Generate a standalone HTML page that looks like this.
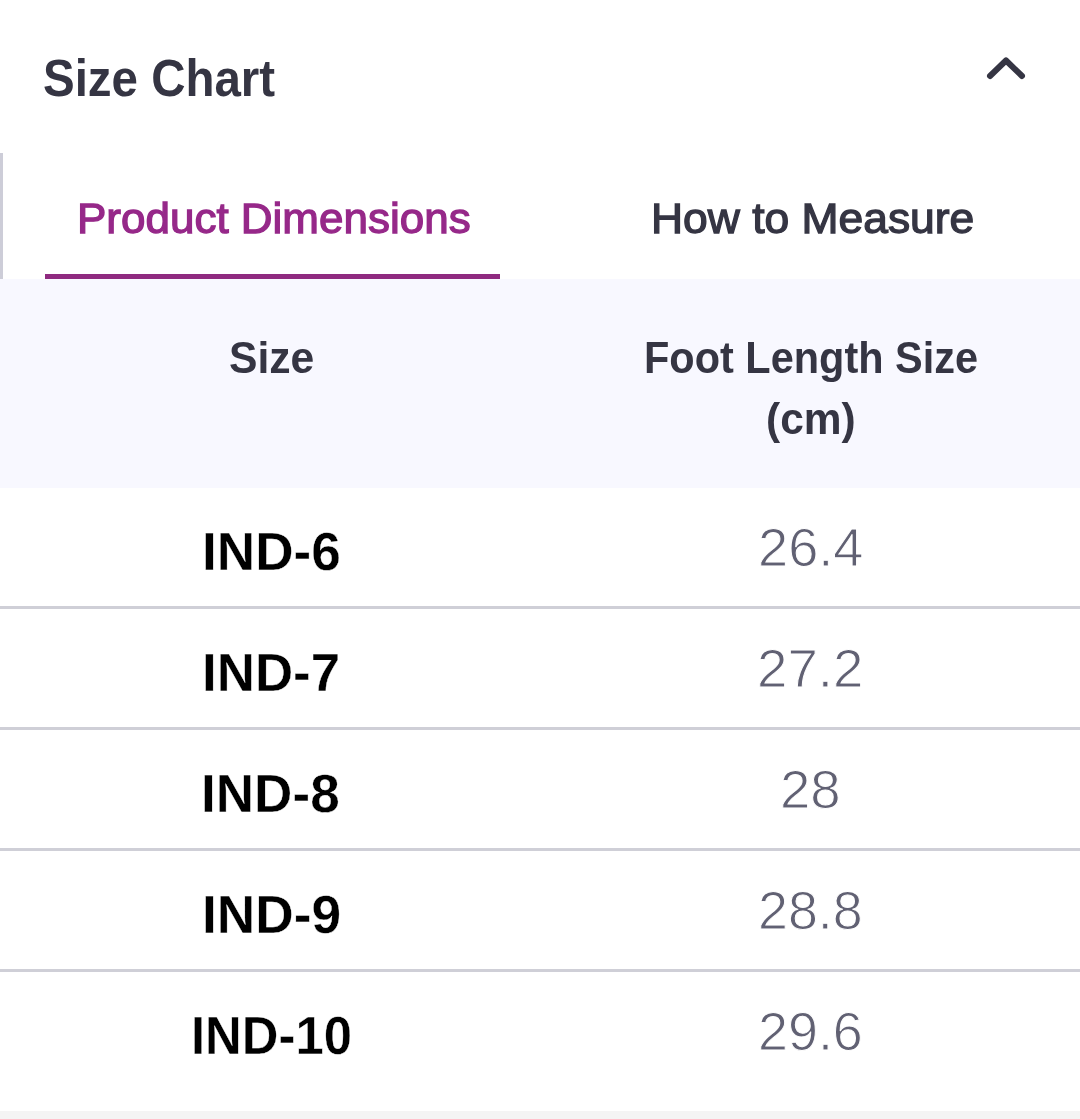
<!DOCTYPE html>
<html lang="en">
<head>
<meta charset="utf-8">
<meta name="viewport" content="width=1080">
<title>Size Chart</title>
<style>
html,body{margin:0;padding:0;}
body{width:1080px;height:1119px;background:#fff;position:relative;overflow:hidden;font-family:"Liberation Sans",sans-serif;color:#353543;}
h2{margin:0;}
.t{position:absolute;white-space:nowrap;line-height:1;font-weight:400;transform-origin:0 0;}
.title{font-weight:700;color:#353543;}
.chev{position:absolute;left:980.4px;top:50px;width:52px;height:36px;}
.leftbar{position:absolute;left:0;top:153px;width:3px;height:126px;background:#cdcdd8;}
.tab{color:#353543;-webkit-text-stroke:1.3px #353543;}
.tab-active{color:#962889;-webkit-text-stroke:1.3px #962889;}
.underline{position:absolute;left:45px;top:274px;width:455px;height:5px;background:#8f2a80;}
.thead{position:absolute;left:0;top:279px;width:1080px;height:209px;background:#f8f8ff;}
.th{font-weight:700;color:#353543;}
.k{font-weight:700;color:#000;-webkit-text-stroke:0.4px #fff;}
.v{color:#616173;-webkit-text-stroke:1px #fff;}
.rule{position:absolute;left:0;width:1080px;height:3px;background:#cfcfd7;}
.foot{position:absolute;left:0;top:1111px;width:1080px;height:8px;background:#f4f4f4;}
</style>
</head>
<body>
<main class="card">
  <header class="head">
    <h2 class="t title" style="left:42.52px;top:53px;font-size:51.5px;transform:scaleX(0.9214);">Size Chart</h2>
    <svg class="chev" viewBox="0 0 52 36" aria-hidden="true"><path d="M10 26 L26 10.5 L42 26" fill="none" stroke="#353543" stroke-width="6" stroke-linecap="round" stroke-linejoin="round"/></svg>
  </header>
  <nav class="tabs" role="tablist">
    <div class="leftbar"></div>
    <div class="t tab tab-active" role="tab" aria-selected="true" style="left:77.03px;top:197px;font-size:43.2px;transform:scaleX(1.0186);">Product Dimensions</div>
    <div class="t tab" role="tab" aria-selected="false" style="left:650.54px;top:197px;font-size:43.2px;transform:scaleX(1.0281);">How to Measure</div>
    <div class="underline"></div>
  </nav>
  <section class="table" role="table">
    <div class="thead" role="row">
      <div class="t th" role="columnheader" style="left:229.06px;top:57px;font-size:44.5px;transform:scaleX(0.9579);">Size</div>
      <div class="t th" role="columnheader" style="left:644.41px;top:57px;font-size:44.5px;transform:scaleX(0.9321);">Foot Length Size</div>
      <div class="t th" style="left:765.72px;top:118px;font-size:44.5px;transform:scaleX(0.9537);">(cm)</div>
    </div>
    <div class="tr" role="row">
      <div class="t k" role="cell" style="left:201.83px;top:525px;font-size:54.3px;transform:scaleX(0.9795);">IND-6</div>
      <div class="t v" role="cell" style="left:757.64px;top:520px;font-size:54.2px;transform:scaleX(0.9997);">26.4</div>
      <div class="rule" style="top:606px;"></div>
    </div>
    <div class="tr" role="row">
      <div class="t k" role="cell" style="left:202.36px;top:646px;font-size:54.3px;transform:scaleX(0.9744);">IND-7</div>
      <div class="t v" role="cell" style="left:757.13px;top:641px;font-size:54.2px;transform:scaleX(1.0085);">27.2</div>
      <div class="rule" style="top:727px;"></div>
    </div>
    <div class="tr" role="row">
      <div class="t k" role="cell" style="left:201.36px;top:767px;font-size:54.3px;transform:scaleX(0.9780);">IND-8</div>
      <div class="t v" role="cell" style="left:780.12px;top:762px;font-size:54.2px;transform:scaleX(1.0064);">28</div>
      <div class="rule" style="top:848px;"></div>
    </div>
    <div class="tr" role="row">
      <div class="t k" role="cell" style="left:201.84px;top:888px;font-size:54.3px;transform:scaleX(0.9811);">IND-9</div>
      <div class="t v" role="cell" style="left:758.34px;top:883px;font-size:54.2px;transform:scaleX(0.9930);">28.8</div>
      <div class="rule" style="top:969px;"></div>
    </div>
    <div class="tr" role="row">
      <div class="t k" role="cell" style="left:191.34px;top:1009px;font-size:54.3px;transform:scaleX(0.9354);">IND-10</div>
      <div class="t v" role="cell" style="left:758.28px;top:1004px;font-size:54.2px;transform:scaleX(0.9937);">29.6</div>
    </div>
  </section>
  <div class="foot"></div>
</main>
</body>
</html>
